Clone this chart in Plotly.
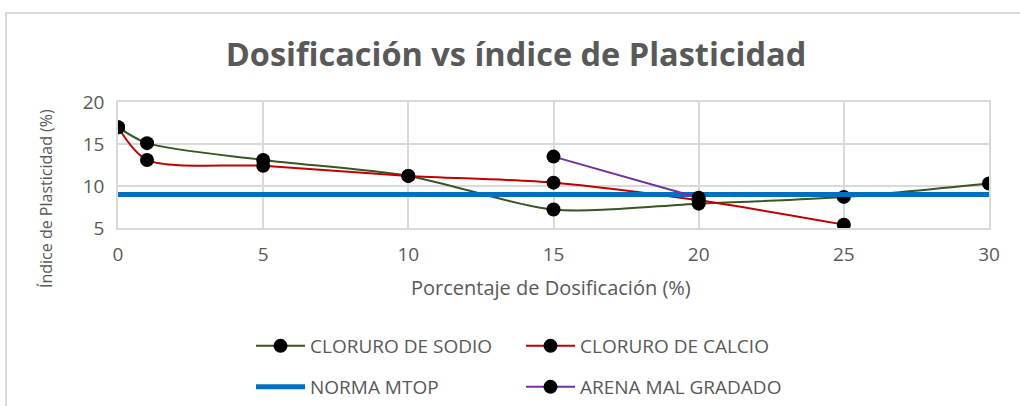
import plotly.graph_objects as go

# Data
x_sodio = [0, 1, 5, 10, 15, 20, 25, 30]
y_sodio = [17.0, 15.1, 13.1, 11.2, 7.2, 7.9, 8.7, 10.3]

x_calcio = [0, 1, 5, 10, 15, 20, 25]
y_calcio = [17.0, 13.1, 12.4, 11.2, 10.4, 8.3, 5.4]

x_norma = [0, 30]
y_norma = [9.0, 9.0]

x_arena = [15, 20]
y_arena = [13.5, 8.6]

title_text = "Dosificación vs índice de Plasticidad"
x_title = "Porcentaje de Dosificación (%)"
y_title = "Índice de Plasticidad (%)"

FONT = "Open Sans, Noto Sans, sans-serif"
GRAY = "#595959"

W, H = 1020, 406
L, R, T, B = 118, 31, 102, 178
pw = W - L - R
ph = H - T - B

def px(xp):
    return (xp - L) / pw

def py(yp):
    return (H - B - yp) / ph

fig = go.Figure()
marker = dict(color="black", size=14)
fig.add_trace(go.Scatter(x=x_sodio, y=y_sodio, mode="lines+markers", name="CLORURO DE SODIO",
                         line=dict(color="#375623", width=2, shape="spline", smoothing=0.8),
                         marker=marker, legend="legend"))
fig.add_trace(go.Scatter(x=x_calcio, y=y_calcio, mode="lines+markers", name="CLORURO DE CALCIO",
                         line=dict(color="#C00000", width=2, shape="spline", smoothing=0.8),
                         marker=marker, legend="legend"))
fig.add_trace(go.Scatter(x=x_norma, y=y_norma, mode="lines", name="NORMA MTOP",
                         line=dict(color="#0070C0", width=5),
                         legend="legend2"))
fig.add_trace(go.Scatter(x=x_arena, y=y_arena, mode="lines+markers", name="ARENA MAL GRADADO",
                         line=dict(color="#7030A0", width=2),
                         marker=marker, legend="legend2"))

legend_common = dict(orientation="h", xanchor="left", yanchor="middle",
                     entrywidth=206, entrywidthmode="pixels", itemwidth=49,
                     font=dict(family=FONT, size=19, color=GRAY),
                     bgcolor="rgba(0,0,0,0)", itemclick=False, itemdoubleclick=False)

fig.update_layout(
    width=W, height=H,
    margin=dict(l=L, r=R, t=T, b=B, autoexpand=False),
    paper_bgcolor="white", plot_bgcolor="white",
    font=dict(family=FONT, color=GRAY),
    title=dict(text=title_text, x=516 / W, xref="container", y=1 - 55 / H,
               yref="container", xanchor="center", yanchor="middle",
               font=dict(family=FONT, size=32.5, color=GRAY, weight=700)),
    xaxis=dict(range=[0, 30], dtick=5, tick0=0, showgrid=True, gridcolor="#d9d9d9", gridwidth=1.5,
               zeroline=False, showline=True, linecolor="#d9d9d9", linewidth=1.5, mirror=True,
               tickfont=dict(family=FONT, size=19, color=GRAY), ticks="", ticklabelstandoff=8),
    yaxis=dict(range=[5, 20], dtick=5, tick0=5, showgrid=True, gridcolor="#d9d9d9", gridwidth=1.5,
               zeroline=False, showline=True, linecolor="#d9d9d9", linewidth=1.5, mirror=True,
               tickfont=dict(family=FONT, size=19, color=GRAY), ticks="", ticklabelstandoff=8),
    legend=dict(x=px(251), y=py(346), **legend_common),
    legend2=dict(x=px(251), y=py(387), **legend_common),
    showlegend=True,
    annotations=[
        dict(text=x_title, x=px(551), y=py(287), xref="paper", yref="paper", showarrow=False,
             xanchor="center", yanchor="middle", font=dict(family=FONT, size=20, color=GRAY)),
        dict(text=y_title, x=px(46), y=py(199), xref="paper", yref="paper", showarrow=False,
             textangle=-90, xanchor="center", yanchor="middle",
             font=dict(family=FONT, size=16, color=GRAY)),
    ],
    shapes=[
        dict(type="rect", xref="paper", yref="paper", x0=px(6), x1=px(1060), y0=py(13), y1=py(460),
             line=dict(color="#d9d9d9", width=2), layer="below"),
    ],
)

fig.write_html("out.html", post_script="document.body.style.margin='0';",
               config={"displayModeBar": False})
